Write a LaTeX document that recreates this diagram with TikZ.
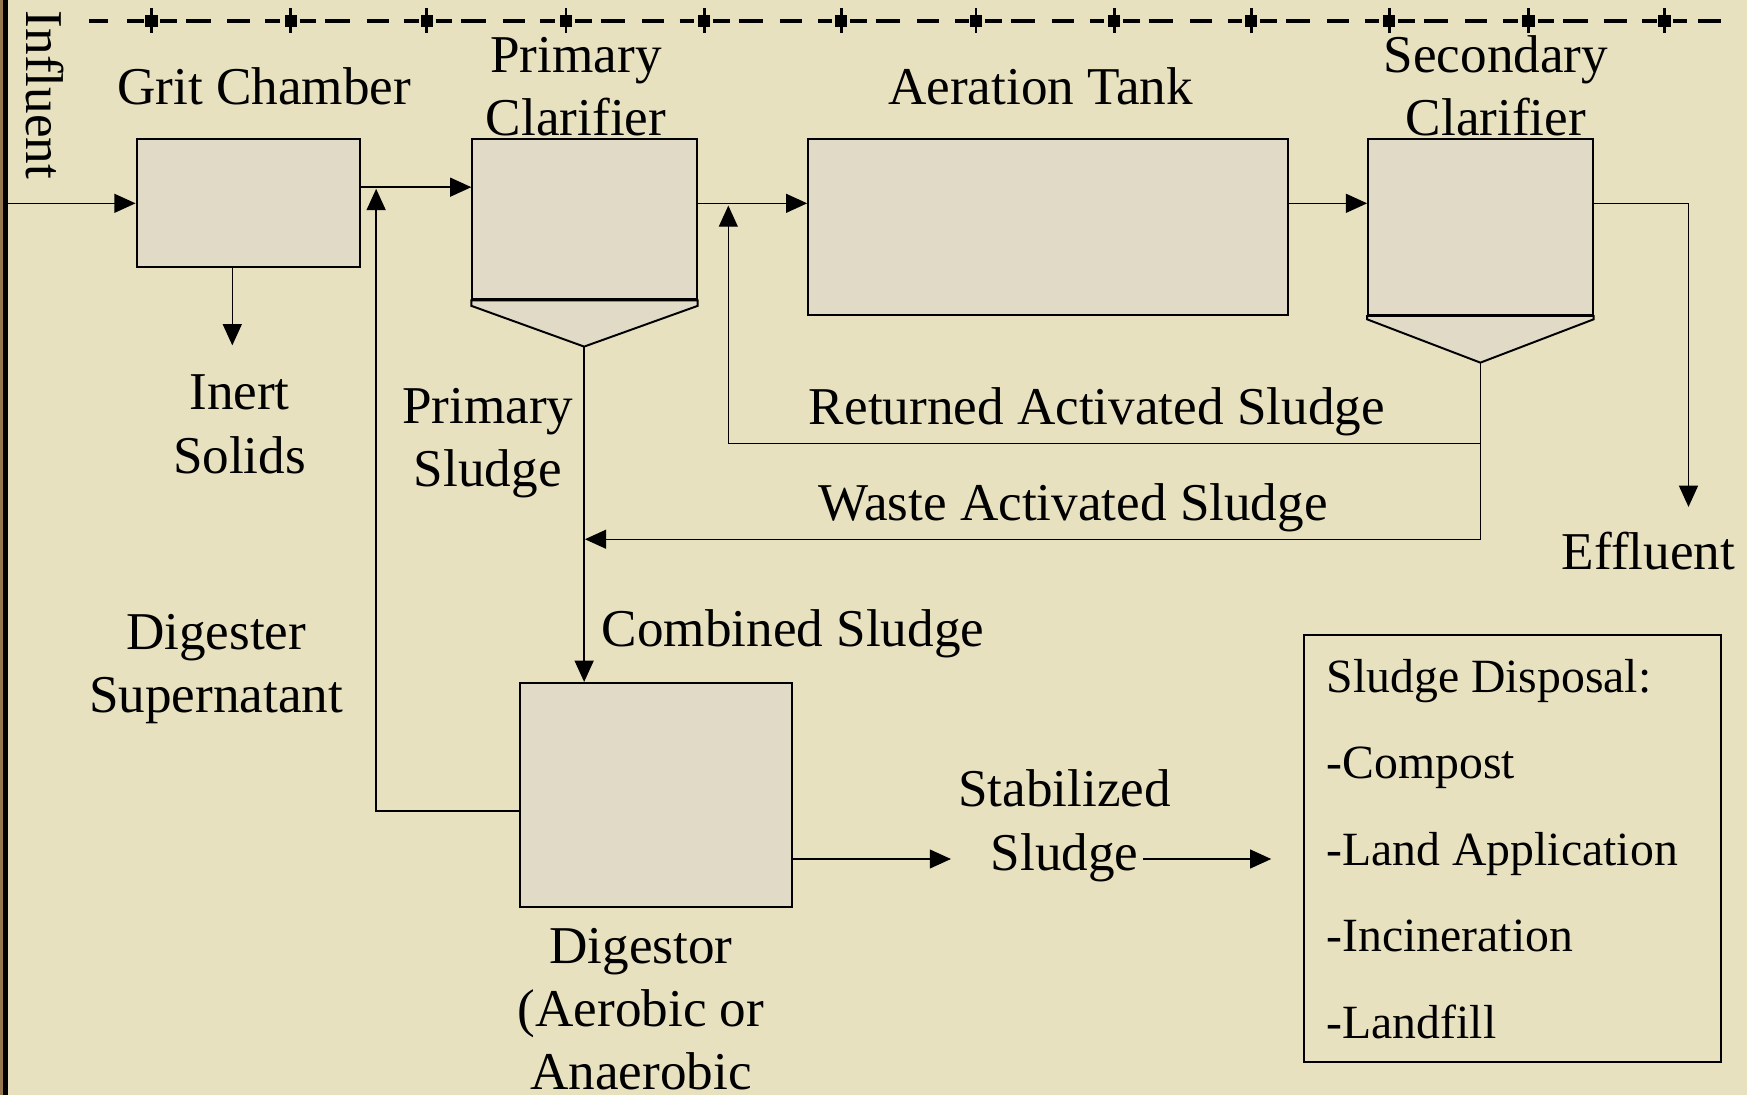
\documentclass[tikz,border=0pt]{standalone}
\usepackage{fontspec}
\setmainfont{Liberation Serif}
\usetikzlibrary{arrows.meta}
\definecolor{parchment}{RGB}{231,225,192}
\definecolor{tankfill}{RGB}{224,218,198}
\definecolor{edgebrown}{RGB}{150,120,80}

\begin{document}
\begin{tikzpicture}[x=0.01cm, y=-0.01cm, >={Triangle[length=0.19cm,width=0.17cm]},
    tank/.style={draw, fill=tankfill, line width=0.5pt, inner sep=0pt},
    pipe/.style={line width=0.35pt},
    lbl/.style={font=\fontsize{13.57}{16.16}\selectfont, align=center, anchor=base, inner sep=0pt},
    topline/.style={line width=1pt, dash pattern=on 0.15cm off 0.08cm on 0.22cm off 0.15cm on 0.2cm off 0.14cm on 0.13cm off 1cm}]
    \useasboundingbox (0,0) rectangle (1568,983);
    \fill[parchment] (0,0) rectangle (1568,983);
    \fill[edgebrown] (0,0) rectangle (3,983);
    \fill[black] (3,0) rectangle (7.5,983);

    % dashed rule along the top
    \draw[line width=1pt] (80,18.5) -- (97,18.5) (114,18.5) -- (129,18.5);
    \foreach \a/\b in {136/261, 261/383, 383/508, 508/632, 632/755, 755/876,
        876/1000, 1000/1123, 1123/1247, 1247/1372, 1372/1494}
        \draw[topline] (\a+8,18.5) -- (\b-6,18.5);
    \draw[line width=1pt] (1502,18.5) -- (1514,18.5) (1524,18.5) -- (1545,18.5);
    \foreach \c in {136,261,383,508,632,755,876,1000,1123,1247,1372,1494} {
        \fill (\c-5.5,13.5) rectangle (\c+5.5,24);
        \draw[line width=0.7pt] (\c,7.5) -- (\c,30);
    }

    % units
    \node[tank, minimum width=2.003cm, minimum height=1.15cm] at (222.75,182.5) (grit) {};
    \node[tank, minimum width=2.013cm, minimum height=1.436cm] at (524.65,196.8) (prim) {};
    \node[tank, minimum width=4.308cm, minimum height=1.577cm] at (940.9,203.85) (aer) {};
    \node[tank, minimum width=2.014cm, minimum height=1.577cm] at (1328.7,203.85) (sec) {};
    \node[tank, minimum width=2.44cm, minimum height=2.01cm] at (589,713.5) (dig) {};
    \node[draw, line width=0.5pt, minimum width=3.743cm, minimum height=3.83cm] at (1357.45,761.4) (disp) {};

    % hoppers
    \coordinate (prim_apex) at (524.3,311.1);
    \coordinate (sec_apex) at (1328.7,325.5);
    \path[tank] (prim.south west) -- (prim.south east) -- ([yshift=-0.05cm]prim.south east)
        -- (prim_apex) -- ([yshift=-0.05cm]prim.south west) -- cycle;
    \path[tank] (sec.south west) -- (sec.south east) -- ([yshift=-0.03cm]sec.south east)
        -- (sec_apex) -- ([yshift=-0.03cm]sec.south west) -- cycle;

    % flows
    \coordinate (lvl_a) at (0,168);
    \coordinate (lvl_b) at (0,182.5);
    \coordinate (infl_start) at (7.5,182.5);
    \draw[pipe,->] (infl_start) -- (grit.west);
    \draw[pipe,->] (grit.east |- lvl_a) -- (prim.west |- lvl_a);
    \draw[pipe,->] (prim.east |- lvl_b) -- (aer.west |- lvl_b);
    \draw[pipe,->] (aer.east |- lvl_b) -- (sec.west |- lvl_b);
    \coordinate (effl_end) at (1515.5,455);
    \draw[pipe,->] (sec.east |- lvl_b) -| (effl_end);
    \coordinate (inert_end) at (208.5,310);
    \draw[pipe,->] (grit.south -| inert_end) -- (inert_end);
    \draw[pipe,->] (prim_apex) -- (prim_apex |- dig.north);
    \coordinate (ras_turn) at (653.7,397.9);
    \coordinate (ras_tip) at (653.7,184.5);
    \draw[pipe,->] (sec_apex) |- (ras_turn) -- (ras_tip);
    \coordinate (was_tip) at (525,484);
    \draw[pipe,->] (sec_apex) |- (was_tip);
    \coordinate (sup_turn) at (337.6,728);
    \coordinate (sup_tip) at (337.6,169.5);
    \draw[pipe,->] (dig.west |- sup_turn) -- (sup_turn) -- (sup_tip);
    \coordinate (stab_in) at (853.5,771);
    \draw[pipe,->] (dig.east |- stab_in) -- (stab_in);
    \coordinate (stab_out) at (1026,771);
    \coordinate (disp_in) at (1141,771);
    \draw[pipe,->] (stab_out) -- (disp_in);

    % labels (multi-line ones sit on the base of their last line)
    \node[lbl, anchor=base west, rotate=-90] at (24,9) (lbl_infl) {Influent};
    \node[lbl] at (237,93.4) (lbl_grit) {Grit Chamber};
    \node[lbl] at (517,122) (lbl_prim) {Primary\\Clarifier};
    \node[lbl] at (934,94) (lbl_aer) {Aeration Tank};
    \node[lbl] at (1342.6,122) (lbl_sec) {Secondary\\Clarifier};
    \node[lbl] at (215,424.8) (lbl_inert) {Inert\\Solids};
    \node[lbl] at (437.8,436.8) (lbl_psl) {Primary\\Sludge};
    \node[lbl] at (984.5,381.4) (lbl_ras) {Returned Activated Sludge};
    \node[lbl] at (963,467.3) (lbl_was) {Waste Activated Sludge};
    \node[lbl] at (1479.5,511) (lbl_effl) {Effluent};
    \node[lbl, anchor=base west] at (539.4,580) (lbl_comb) {Combined Sludge};
    \node[lbl] at (194,639.8) (lbl_sup) {Digester\\Supernatant};
    \node[lbl] at (955.5,781) (lbl_stab) {Stabilized\\Sludge};
    \node[lbl] at (575.3,978) (lbl_dig) {Digestor\\(Aerobic or\\Anaerobic};
    \node[anchor=base west, align=left, inner sep=0pt, font=\fontsize{12.18}{22.08}\selectfont]
        at (1190,931.9) (disp_txt) {Sludge Disposal:\\-Compost\\-Land Application\\-Incineration\\-Landfill};
\end{tikzpicture}
\end{document}
